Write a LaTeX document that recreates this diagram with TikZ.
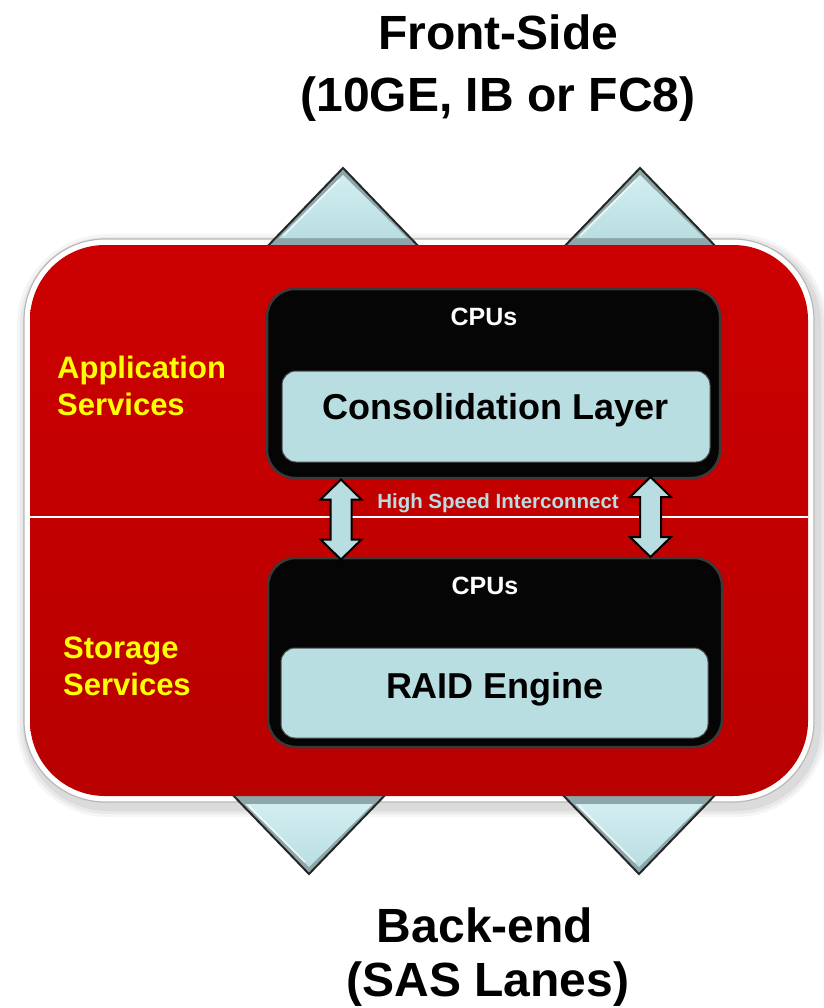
\documentclass[tikz,border=0pt]{standalone}
\usepackage{fontspec}
\setmainfont{Liberation Sans}
\usetikzlibrary{calc}
\definecolor{chassis}{HTML}{C00000}
\definecolor{chassishi}{HTML}{CC0000}
\definecolor{chassislo}{HTML}{B80000}
\definecolor{ice}{HTML}{B9DEE2}
\definecolor{icedark}{HTML}{8DA6A9}
\definecolor{icelight}{HTML}{D2EEF1}
\definecolor{labelyellow}{HTML}{FFFF00}
\definecolor{rim}{HTML}{3A3A3A}

\begin{document}
\begin{tikzpicture}[x=1pt,y=-1pt,
  hdr/.style={font=\bfseries\fontsize{48}{56}\selectfont, anchor=base, inner sep=0pt},
  side/.style={font=\bfseries\fontsize{31}{37}\selectfont, text=labelyellow, anchor=base west, inner sep=0pt},
  cpu/.style={font=\bfseries\fontsize{25}{30}\selectfont, text=white, anchor=base, inner sep=0pt},
  layertext/.style={font=\bfseries\fontsize{36}{40}\selectfont, anchor=base, inner sep=0pt},
  busword/.style={font=\bfseries\fontsize{20.5}{24}\selectfont, text=ice, anchor=base, inner sep=0pt},
  cpubox/.style={fill=black!98, draw=rim, line width=2.5pt, rounded corners=28pt, inner sep=0pt},
  layerbox/.style={fill=ice, draw=black!70, line width=1pt, rounded corners=14pt, inner sep=0pt},
  linkarrow/.style={fill=ice, draw=black, line width=2pt, line join=miter},
  % bevelled port triangle, base centred on the pic origin, apex pointing up
  port/.pic={
    \fill[icedark] (-81,6) -- (0,-78) -- (81,6) -- cycle;
    \shade[top color=icelight, bottom color=ice] (-64,-8) -- (0,-71) -- (64,-8) -- cycle;
    \draw[white, line width=1.5pt, opacity=0.7] (-60,-10) -- (-4,-66);
    \draw[black!85, line width=2pt, line join=miter] (-81,6) -- (0,-78) -- (81,6);
  },
  % vertical double arrow, centred on the pic origin
  dbl/.pic={
    \path[linkarrow] (0,-40) -- (20.5,-20) -- (10.5,-20) -- (10.5,20) -- (20.5,20)
      -- (0,40) -- (-20.5,20) -- (-10.5,20) -- (-10.5,-20) -- (-20.5,-20) -- cycle;
  }
]
\useasboundingbox (0,0) rectangle (823,1008);

% headings
\node[hdr] (front1) at (498,50) {Front-Side};
\node[hdr] (front2) at (498,112) {(10GE, IB or FC8)};
\node[hdr] (back1) at (485,942) {Back-end};
\node[hdr] (back2) at (488,996) {(SAS Lanes)};

% soft shadow and white rim of the chassis
\foreach \e/\o in {10/0.04,7/0.05,4/0.06}
  \fill[black, opacity=\o, rounded corners=81pt+\e pt]
    (24-\e+3,239-\e+5) rectangle (814+\e+3,802+\e+5);
\filldraw[fill=white, draw=black!28, line width=1.2pt, rounded corners=81pt]
  (24,239) rectangle (814,802);

% front-side and back-end ports
\pic at (343,246) {port};
\pic at (640,246) {port};
\pic[yscale=-1] at (309,796) {port};
\pic[yscale=-1] at (639,796) {port};

% chassis body
\node[rounded corners=75pt, top color=chassishi, bottom color=chassislo,
      minimum width=778pt, minimum height=551pt, inner sep=0pt] (chassis) at (419,520.5) {};
\draw[white, line width=1.8pt] (chassis.west |- 0,517) -- (chassis.east |- 0,517);

% side labels
\node[side] (app1) at (57,378) {Application};
\node[side] (app2) at (57,415) {Services};
\node[side] (sto1) at (63,658) {Storage};
\node[side] (sto2) at (63,695) {Services};

% CPU blocks
\node[cpubox, minimum width=453pt, minimum height=189pt] (cpuA) at (493.5,383.5) {};
\node[cpubox, minimum width=454pt, minimum height=189pt] (cpuB) at (495,652.5) {};
\node[layerbox, minimum width=428pt, minimum height=91pt] (cons) at (496,416.5) {};
\node[layerbox, minimum width=427pt, minimum height=90pt] (raid) at (494.5,693) {};

\node[cpu] (cpuAt) at (484,325) {CPUs};
\node[cpu] (cpuBt) at (485,594) {CPUs};
\node[layertext] (consT) at (495.5,419) {Consolidation Layer};
\node[layertext] (raidT) at (495,698) {RAID Engine};

% interconnect between the two CPU blocks
\pic at (341,519.5) {dbl};
\pic at (650.5,517) {dbl};
\node[busword] (bus) at (498,508) {High Speed Interconnect};
\end{tikzpicture}
\end{document}
